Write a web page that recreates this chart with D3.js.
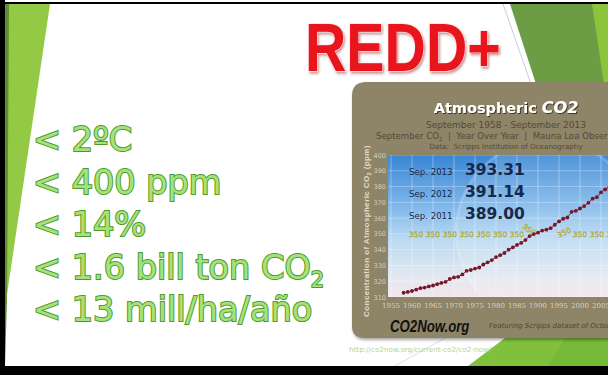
<!DOCTYPE html>
<html><head><meta charset="utf-8">
<script src="https://cdn.jsdelivr.net/npm/d3@7"></script>
<style>html,body{margin:0;padding:0;background:#fff;overflow:hidden}</style>
</head><body>
<svg id="c" width="608" height="375"></svg>
<script>
// ---------- data ----------
const years = [1958,1959,1960,1961,1962,1963,1964,1965,1966,1967,1968,1969,1970,1971,1972,1973,1974,1975,1976,1977,1978,1979,1980,1981,1982,1983,1984,1985,1986,1987,1988,1989,1990,1991,1992,1993,1994,1995,1996,1997,1998,1999,2000,2001,2002,2003,2004,2005,2006,2007,2008,2009,2010,2011,2012,2013];
const sepCO2 = [312.7,313.2,313.8,314.7,315.6,316.0,316.7,317.3,318.1,318.9,319.6,321.4,322.4,322.8,324.3,326.6,327.1,328.0,328.7,330.6,332.0,333.4,335.3,336.5,337.9,340.0,341.4,343.0,344.3,346.1,348.6,349.9,350.8,352.1,352.7,353.6,355.8,357.9,359.6,360.4,364.0,364.6,366.1,367.6,369.7,372.3,373.3,376.3,378.2,379.8,381.9,383.1,386.5,389.00,391.14,393.31];
const yTicks = [310,320,330,340,350,360,370,380,390,400];
const xTicks = [1955,1960,1965,1970,1975,1980,1985,1990,1995,2000,2005];
const highlightLabels = ["Sep. 2013","Sep. 2012","Sep. 2011"];
const highlightValues = ["393.31","391.14","389.00"];
const safeLevel = 350;
const safeLabelYears = [1961,1965,1969,1973,1977,1981,1985,2000,2004,2008];
const safeTiltYears = [1987.5,1996.5];
const bullets = ["< 2ºC","< 400 ppm","< 14%","< 1.6 bill ton CO","< 13 mill/ha/año"];
const slideTitle = "REDD+";

// ---------- drawing ----------
const svg = d3.select("#c");
const defs = svg.append("defs");

const W = 608, H = 375;
svg.append("rect").attr("width",W).attr("height",H).attr("fill","#ffffff");

// decorative green shapes
svg.append("polygon").attr("points","5,4 50,4 5,308").attr("fill","#93c945");
svg.append("polygon").attr("points","5,4 9,4 7,300 5,366").attr("fill","#5e8f30");
svg.append("line").attr("x1",503).attr("y1",4).attr("x2",531).attr("y2",84).attr("stroke","#b9c2cf").attr("stroke-width",0.8);
svg.append("polygon").attr("points","510,4 608,4 608,84 536,84").attr("fill","#6c9d45");
svg.append("polygon").attr("points","592,4 608,4 608,84 604,84").attr("fill","#8cc43c");
svg.append("line").attr("x1",395).attr("y1",366).attr("x2",445).attr("y2",338).attr("stroke","#d0d4da").attr("stroke-width",0.8);
svg.append("polygon").attr("points","505,338 608,338 608,366 468,366").attr("fill","#80c03c");
svg.append("polygon").attr("points","565,338 608,338 608,366 548,366").attr("fill","#6fb334").attr("opacity",0.6);

// frame
svg.append("rect").attr("x",0).attr("y",0).attr("width",5).attr("height",H).attr("fill","#000");
svg.append("rect").attr("x",0).attr("y",2).attr("width",W).attr("height",2).attr("fill","#000");
svg.append("rect").attr("x",0).attr("y",366).attr("width",W).attr("height",9).attr("fill","#000");

// REDD+ title
const sh = defs.append("filter").attr("id","sh").attr("x","-10%").attr("y","-10%").attr("width","130%").attr("height","130%");
sh.append("feDropShadow").attr("dx",1.5).attr("dy",2).attr("stdDeviation",1.5).attr("flood-color","#7a1010").attr("flood-opacity",0.45);
svg.append("text").attr("transform","translate(305,71) scale(0.83,1)")
  .attr("font-family","'Liberation Sans Narrow','Liberation Sans',Arial,sans-serif")
  .attr("font-weight","bold").attr("font-size",69)
  .attr("fill","#e8121b").attr("stroke","#ffd9d9").attr("stroke-width",1)
  .attr("paint-order","stroke").attr("filter","url(#sh)")
  .text(slideTitle);

// bullets
const bg = svg.append("g").attr("font-family","'DejaVu Sans',Verdana,sans-serif").attr("font-size",33.5)
  .attr("fill","#a6e27a").attr("stroke","#4f9a2c").attr("stroke-width",2).attr("paint-order","stroke");
bullets.forEach((b,i)=>{
  const t = bg.append("text").attr("x",33).attr("y",151+i*42.5).text(b);
  if (i===3) t.append("tspan").attr("font-size",21).attr("dy",8).text("2");
});

// ---------- CO2 panel ----------
const px0 = 352, py0 = 82, py1 = 338, r1 = 14, r2 = 12;
const pshadow = defs.append("filter").attr("id","psh").attr("x","-5%").attr("y","-5%").attr("width","115%").attr("height","115%");
pshadow.append("feDropShadow").attr("dx",1).attr("dy",2).attr("stdDeviation",1.5).attr("flood-color","#000").attr("flood-opacity",0.35);
svg.append("path")
  .attr("d",`M${W},${py0} L${px0+r1},${py0} Q${px0},${py0} ${px0},${py0+r1} L${px0},${py1-r2} Q${px0},${py1} ${px0+r2},${py1} L${W},${py1} Z`)
  .attr("fill","#8e8467").attr("filter","url(#psh)");

// panel titles
const tsh = defs.append("filter").attr("id","tsh");
tsh.append("feDropShadow").attr("dx",1).attr("dy",1).attr("stdDeviation",0.6).attr("flood-color","#2a2418").attr("flood-opacity",0.8);
const ttl = svg.append("text").attr("x",506).attr("y",113).attr("text-anchor","middle")
  .attr("font-family","'DejaVu Sans',sans-serif").attr("font-weight","bold").attr("font-size",14.5)
  .attr("fill","#ffffff").attr("filter","url(#tsh)");
ttl.append("tspan").text("Atmospheric ");
ttl.append("tspan").attr("font-style","italic").attr("font-size",16).text("CO2");

svg.append("text").attr("x",506).attr("y",128).attr("text-anchor","middle")
  .attr("font-family","'DejaVu Sans',sans-serif").attr("font-size",9).attr("fill","#554a33")
  .text("September 1958 - September 2013");
const l3 = svg.append("text").attr("x",376).attr("y",139)
  .attr("font-family","'DejaVu Sans',sans-serif").attr("font-size",8.6).attr("fill","#554a33");
l3.append("tspan").text("September CO");
l3.append("tspan").attr("font-size",5.5).attr("dy",2).text("2");
l3.append("tspan").attr("dy",-2).text("\u00a0\u00a0|\u00a0\u00a0Year Over Year\u00a0\u00a0|\u00a0\u00a0Mauna Loa Observatory");
svg.append("text").attr("x",506).attr("y",149).attr("text-anchor","middle")
  .attr("font-family","'DejaVu Sans',sans-serif").attr("font-size",7.2).attr("fill","#554a33")
  .text("Data:\u00a0\u00a0Scripps Institution of Oceanography");

// plot
const x = d3.scaleLinear().domain([1955,2005]).range([391,601]);
const y = d3.scaleLinear().domain([310,400]).range([297,155]);
const plotL = 388, plotT = y(400), plotB = y(310);

const grad = defs.append("linearGradient").attr("id","sky").attr("x1",0).attr("y1",0).attr("x2",0).attr("y2",1);
[[0,"#3886d4"],[0.35,"#7cb6ea"],[0.6,"#bcdaf2"],[0.85,"#e2e8f1"],[1,"#f1e6ea"]]
  .forEach(([o,c])=>grad.append("stop").attr("offset",o).attr("stop-color",c));
defs.append("clipPath").attr("id","pc").append("rect").attr("x",plotL).attr("y",plotT).attr("width",W-plotL).attr("height",plotB-plotT);

const pg = svg.append("g").attr("clip-path","url(#pc)");
pg.append("rect").attr("x",plotL).attr("y",plotT).attr("width",W-plotL).attr("height",plotB-plotT).attr("fill","url(#sky)");
// globe watermark
pg.append("circle").attr("cx",548).attr("cy",232).attr("r",92).attr("fill","#ffffff").attr("opacity",0.13);
pg.append("circle").attr("cx",548).attr("cy",232).attr("r",92).attr("fill","none").attr("stroke","#ffffff").attr("stroke-width",3).attr("opacity",0.18);

// grid
pg.selectAll(".gx").data(xTicks).join("line").attr("x1",d=>x(d)).attr("x2",d=>x(d)).attr("y1",plotT).attr("y2",plotB)
  .attr("stroke","#ffffff").attr("stroke-opacity",0.35).attr("stroke-width",1);
pg.selectAll(".gy").data(yTicks).join("line").attr("x1",plotL).attr("x2",W).attr("y1",d=>y(d)).attr("y2",d=>y(d))
  .attr("stroke","#ffffff").attr("stroke-opacity",0.3).attr("stroke-width",1);

// 350 labels
pg.selectAll(".s350").data(safeLabelYears).join("text").attr("x",d=>x(d)).attr("y",y(safeLevel)+3)
  .attr("text-anchor","middle").attr("font-family","'DejaVu Sans',sans-serif").attr("font-size",7.5)
  .attr("fill","#d3c82a").attr("stroke","#8d8a2a").attr("stroke-width",0.25).text(String(safeLevel));
pg.selectAll(".t350").data(safeTiltYears).join("text")
  .attr("transform",(d,i)=>`translate(${x(d)},${y(safeLevel)+(i?1:-2)}) rotate(${i?-25:35})`)
  .attr("text-anchor","middle").attr("font-family","'DejaVu Sans',sans-serif").attr("font-size",7.5)
  .attr("fill","#d3c82a").attr("stroke","#8d8a2a").attr("stroke-width",0.25).text(String(safeLevel));

// highlight texts
highlightLabels.forEach((lab,i)=>{
  const by = [175,197,219][i];
  pg.append("text").attr("x",409).attr("y",by).attr("font-family","'DejaVu Sans',sans-serif").attr("font-size",8.6)
    .attr("fill","#17284a").text(lab);
  pg.append("text").attr("x",465).attr("y",by).attr("font-family","'DejaVu Sans',sans-serif").attr("font-weight","bold")
    .attr("font-size",15.5).attr("fill","#17284a").text(highlightValues[i]);
});

// data series
const pts = years.map((yr,i)=>[yr,sepCO2[i]]);
pg.append("path").datum(pts).attr("d",d3.line().x(d=>x(d[0])).y(d=>y(d[1])))
  .attr("fill","none").attr("stroke","#8c2236").attr("stroke-width",1);
pg.selectAll(".dot").data(pts).join("circle").attr("cx",d=>x(d[0])).attr("cy",d=>y(d[1])).attr("r",1.9)
  .attr("fill","#74182a");

// axes labels
svg.append("g").selectAll("text").data(yTicks).join("text").attr("x",386).attr("y",d=>y(d)+2.5)
  .attr("text-anchor","end").attr("font-family","'DejaVu Sans',sans-serif").attr("font-size",6.5)
  .attr("fill","#d6ceb5").text(d=>d);
svg.append("g").selectAll("text").data(xTicks).join("text").attr("x",d=>x(d)).attr("y",308)
  .attr("text-anchor","middle").attr("font-family","'DejaVu Serif',serif").attr("font-size",7)
  .attr("fill","#d9d2bd").text(d=>d);
const yt = svg.append("text").attr("transform","translate(369,231) rotate(-90)").attr("text-anchor","middle")
  .attr("font-family","'Liberation Sans',Arial,sans-serif").attr("font-weight","bold").attr("font-size",8)
  .attr("letter-spacing",0.4).attr("fill","#e3dcc6");
yt.append("tspan").text("Concentration of Atmospheric CO");
yt.append("tspan").attr("font-size",5.5).attr("dy",2).text("2");
yt.append("tspan").attr("dy",-2).text(" (ppm)");

// footer
svg.append("text").attr("transform","translate(390,332) scale(0.8,1)").attr("font-family","'Liberation Sans',Arial,sans-serif").attr("font-weight","bold")
  .attr("font-style","italic").attr("font-size",16.5).attr("fill","#111").text("CO2Now.org");
svg.append("text").attr("x",489).attr("y",328).attr("font-family","'DejaVu Sans',sans-serif")
  .attr("font-style","italic").attr("font-size",7).attr("fill","#4f4532").text("Featuring Scripps dataset of October 2013");
svg.append("text").attr("x",349).attr("y",352).attr("font-family","'DejaVu Sans',sans-serif")
  .attr("font-size",7.2).attr("fill","#b3d48f").text("http://co2now.org/current-co2/co2-now/");
</script>
</body></html>
